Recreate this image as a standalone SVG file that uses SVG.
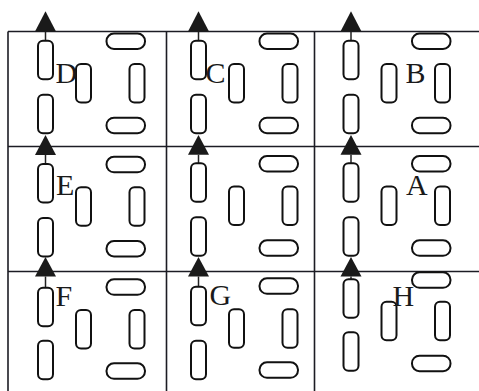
<svg xmlns="http://www.w3.org/2000/svg" xmlns:xlink="http://www.w3.org/1999/xlink" width="479" height="391" viewBox="0 0 479 391">
<style>
.grid line{stroke:#1c1c24;stroke-width:1.6}
.tire{fill:#fff;stroke:#111;stroke-width:2}
.arrow{fill:#1a1a1a;stroke:none}
.stem{stroke:#222;stroke-width:1.5}
.lbl{font-family:"Liberation Serif","Times New Roman",serif;font-size:30px;fill:#1a1a1a}
</style>
<defs>
<rect id="vt" class="tire" x="0" y="0" width="15" height="38.5" rx="5" ry="5"/>
<rect id="ht" class="tire" x="0" y="0" width="38.5" height="15.5" rx="7.5" ry="7.5"/>
</defs>
<rect width="479" height="391" fill="#fff"/>
<g class="grid" id="grid">
<line x1="8" y1="31.5" x2="479" y2="31.5"/>
<line x1="8" y1="146.5" x2="479" y2="146.5"/>
<line x1="8" y1="271.5" x2="479" y2="271.5"/>
<line x1="8" y1="31.5" x2="8" y2="391"/>
<line x1="166.5" y1="31.5" x2="166.5" y2="391"/>
<line x1="314.5" y1="31.5" x2="314.5" y2="391"/>
</g>
<g id="cell-D" transform="translate(38,40.7)">
<line class="stem" x1="7.5" y1="-9.2" x2="7.5" y2="0"/>
<path class="arrow" d="M7.5,-29.5 L18,-9.2 L-3,-9.2 Z"/>
<use xlink:href="#vt" x="0" y="0"/><use xlink:href="#vt" x="0" y="54"/>
<use xlink:href="#vt" x="38" y="23.3"/><use xlink:href="#vt" x="91.5" y="23.3"/>
<use xlink:href="#ht" x="68.5" y="-7.2"/><use xlink:href="#ht" x="68.5" y="77"/>
<text class="lbl" x="17.5" y="42.3">D</text>
</g>
<g id="cell-C" transform="translate(191,40.7)">
<line class="stem" x1="7.5" y1="-9.2" x2="7.5" y2="0"/>
<path class="arrow" d="M7.5,-29.5 L18,-9.2 L-3,-9.2 Z"/>
<use xlink:href="#vt" x="0" y="0"/><use xlink:href="#vt" x="0" y="54"/>
<use xlink:href="#vt" x="38" y="23.3"/><use xlink:href="#vt" x="91.5" y="23.3"/>
<use xlink:href="#ht" x="68.5" y="-7.2"/><use xlink:href="#ht" x="68.5" y="77"/>
<text class="lbl" x="14.5" y="42.3">C</text>
</g>
<g id="cell-B" transform="translate(343.5,40.7)">
<line class="stem" x1="7.5" y1="-9.2" x2="7.5" y2="0"/>
<path class="arrow" d="M7.5,-29.5 L18,-9.2 L-3,-9.2 Z"/>
<use xlink:href="#vt" x="0" y="0"/><use xlink:href="#vt" x="0" y="54"/>
<use xlink:href="#vt" x="38" y="23.3"/><use xlink:href="#vt" x="91.5" y="23.3"/>
<use xlink:href="#ht" x="68.5" y="-7.2"/><use xlink:href="#ht" x="68.5" y="77"/>
<text class="lbl" x="62" y="42.3">B</text>
</g>
<g id="cell-E" transform="translate(38,164)">
<line class="stem" x1="7.5" y1="-9" x2="7.5" y2="0"/>
<path class="arrow" d="M7.5,-29 L18,-9 L-3,-9 Z"/>
<use xlink:href="#vt" x="0" y="0"/><use xlink:href="#vt" x="0" y="54"/>
<use xlink:href="#vt" x="38" y="23.3"/><use xlink:href="#vt" x="91.5" y="23.3"/>
<use xlink:href="#ht" x="68.5" y="-7.2"/><use xlink:href="#ht" x="68.5" y="77"/>
<text class="lbl" x="18" y="31">E</text>
</g>
<g id="cell-mid" transform="translate(191,163.3)">
<line class="stem" x1="7.5" y1="-8.5" x2="7.5" y2="0"/>
<path class="arrow" d="M7.5,-28.3 L18,-8.5 L-3,-8.5 Z"/>
<use xlink:href="#vt" x="0" y="0"/><use xlink:href="#vt" x="0" y="54"/>
<use xlink:href="#vt" x="38" y="23.3"/><use xlink:href="#vt" x="91.5" y="23.3"/>
<use xlink:href="#ht" x="68.5" y="-7.2"/><use xlink:href="#ht" x="68.5" y="77"/>
</g>
<g id="cell-A" transform="translate(343.5,163.3)">
<line class="stem" x1="7.5" y1="-8.5" x2="7.5" y2="0"/>
<path class="arrow" d="M7.5,-28.3 L18,-8.5 L-3,-8.5 Z"/>
<use xlink:href="#vt" x="0" y="0"/><use xlink:href="#vt" x="0" y="54"/>
<use xlink:href="#vt" x="38" y="23.3"/><use xlink:href="#vt" x="91.5" y="23.3"/>
<use xlink:href="#ht" x="68.5" y="-7.2"/><use xlink:href="#ht" x="68.5" y="77"/>
<text class="lbl" x="62.5" y="31.7">A</text>
</g>
<g id="cell-F" transform="translate(38,287.7)">
<line class="stem" x1="7.5" y1="-11.2" x2="7.5" y2="0"/>
<path class="arrow" d="M7.5,-30.7 L18,-11.2 L-3,-11.2 Z"/>
<use xlink:href="#vt" x="0" y="0"/><use xlink:href="#vt" x="0" y="53"/>
<use xlink:href="#vt" x="38" y="22.3"/><use xlink:href="#vt" x="91.5" y="22.3"/>
<use xlink:href="#ht" x="68.5" y="-8.4"/><use xlink:href="#ht" x="68.5" y="75.6"/>
<text class="lbl" x="17.5" y="18">F</text>
</g>
<g id="cell-G" transform="translate(191,286.7)">
<line class="stem" x1="7.5" y1="-10.2" x2="7.5" y2="0"/>
<path class="arrow" d="M7.5,-29.7 L18,-10.2 L-3,-10.2 Z"/>
<use xlink:href="#vt" x="0" y="0"/><use xlink:href="#vt" x="0" y="54"/>
<use xlink:href="#vt" x="38" y="22.6"/><use xlink:href="#vt" x="91.5" y="22.6"/>
<use xlink:href="#ht" x="68.5" y="-8.4"/><use xlink:href="#ht" x="68.5" y="75.6"/>
<text class="lbl" x="18.5" y="18.3">G</text>
</g>
<g id="cell-H" transform="translate(343.5,279.3)">
<line class="stem" x1="7.5" y1="-2.8" x2="7.5" y2="0"/>
<path class="arrow" d="M7.5,-22.3 L18,-2.8 L-3,-2.8 Z"/>
<use xlink:href="#vt" x="0" y="0"/><use xlink:href="#vt" x="0" y="53"/>
<use xlink:href="#vt" x="38" y="22.4"/><use xlink:href="#vt" x="91.5" y="22.4"/>
<use xlink:href="#ht" x="68.5" y="-7"/><use xlink:href="#ht" x="68.5" y="76.4"/>
<text class="lbl" x="49" y="26.4">H</text>
</g>
</svg>
